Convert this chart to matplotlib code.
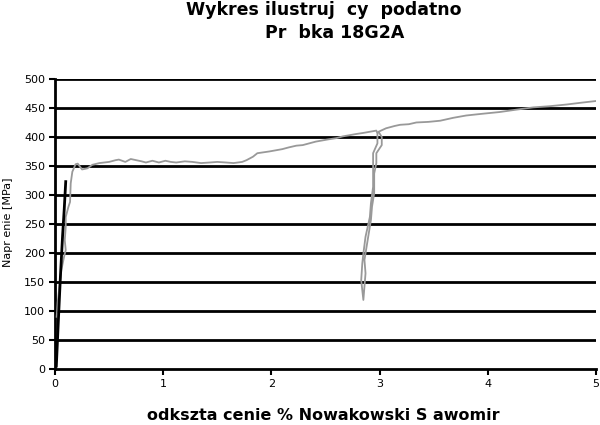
import matplotlib
matplotlib.use("Agg")
import matplotlib.pyplot as plt

plt.rcParams['font.family'] = ['DejaVu Sans']

# Gray measured curve (strain %, stress MPa)
gray_x = [0.015, 0.025, 0.037, 0.058, 0.083, 0.099, 0.09, 0.099, 0.099, 0.123, 0.139, 0.145, 0.16,
          0.19, 0.21, 0.25, 0.30, 0.345, 0.41, 0.50, 0.56, 0.59, 0.65, 0.70, 0.75, 0.80, 0.84, 0.90,
          0.96, 1.02, 1.07, 1.12, 1.20, 1.27, 1.35, 1.43, 1.50, 1.58, 1.65, 1.73, 1.77, 1.83, 1.87,
          1.98, 2.04, 2.10, 2.16, 2.23, 2.29, 2.35, 2.41, 2.47, 2.53, 2.60, 2.66, 2.72, 2.78, 2.85,
          2.91, 2.97,
          2.98, 2.98, 2.94, 2.94, 2.94, 2.92, 2.91, 2.87, 2.85, 2.84, 2.83, 2.85,
          2.86, 2.87, 2.86, 2.88, 2.90, 2.92, 2.93, 2.95, 2.95, 2.97, 2.97, 3.02, 3.02, 2.99,
          3.06, 3.14, 3.19, 3.27, 3.34, 3.45, 3.56, 3.68, 3.80, 3.95, 4.11, 4.26, 4.42, 4.57,
          4.73, 4.86, 5.0]
gray_y = [90, 115, 136, 170, 193, 205, 222, 245, 262, 279, 288, 320, 340,
          353, 354, 344, 346, 352, 355, 357, 360, 361, 357, 362, 360, 358, 356, 359,
          356, 359, 357, 356, 358, 357, 355, 356, 357, 356, 355, 357, 360, 366, 372,
          375, 377, 379, 382, 385, 386, 389, 392, 394, 396, 398, 401, 403, 405, 407,
          409, 411,
          406, 389, 372, 349, 314, 286, 262, 228, 199, 182, 153, 119,
          142, 165, 188, 211, 234, 257, 280, 303, 337, 355, 372, 386, 400, 409,
          415, 419, 421, 422, 425, 426, 428, 433, 437, 440, 443, 447, 451, 453,
          456, 459, 462]

# Black straight elastic line
black_x = [0.012, 0.03, 0.05, 0.07, 0.085, 0.099]
black_y = [5, 80, 160, 230, 275, 323]

x_ticks = [0, 1, 2, 3, 4, 5]
y_ticks = [0, 50, 100, 150, 200, 250, 300, 350, 400, 450, 500]

fig = plt.figure(figsize=(6, 4.25), dpi=100)
ax = fig.add_axes([0.0917, 0.1318, 0.9016, 0.6824])

for yv in y_ticks[1:]:
    ax.axhline(yv, color='black', lw=2, zorder=1)

ax.plot(gray_x, gray_y, color='#999999', lw=1.3, zorder=3)
ax.plot(black_x, black_y, color='black', lw=2, zorder=4)

ax.set_xlim(0, 5)
ax.set_ylim(0, 500)
ax.set_xticks(x_ticks)
ax.set_yticks(y_ticks)
ax.set_xticklabels([str(v) for v in x_ticks])
ax.set_yticklabels([str(v) for v in y_ticks])
ax.tick_params(axis='both', labelsize=8, width=1.5, length=4, direction='out', pad=3)

for s in ['top', 'right']:
    ax.spines[s].set_visible(False)
for s in ['left', 'bottom']:
    ax.spines[s].set_linewidth(2)

fig.text(0.54, 0.9647, 'Wykres ilustruj  cy  podatno', ha='center', va='baseline',
         fontsize=12.5, fontweight='bold')
fig.text(0.558, 0.91, 'Pr  bka 18G2A', ha='center', va='baseline',
         fontsize=12.5, fontweight='bold')
fig.text(0.539, 0.011, 'odkszta cenie % Nowakowski S awomir', ha='center', va='baseline',
         fontsize=11.5, fontweight='bold')
fig.text(0.0133, 0.478, 'Napr enie [MPa]', ha='center', va='center', rotation=90,
         fontsize=8)

fig.savefig('out.png', dpi=100)
